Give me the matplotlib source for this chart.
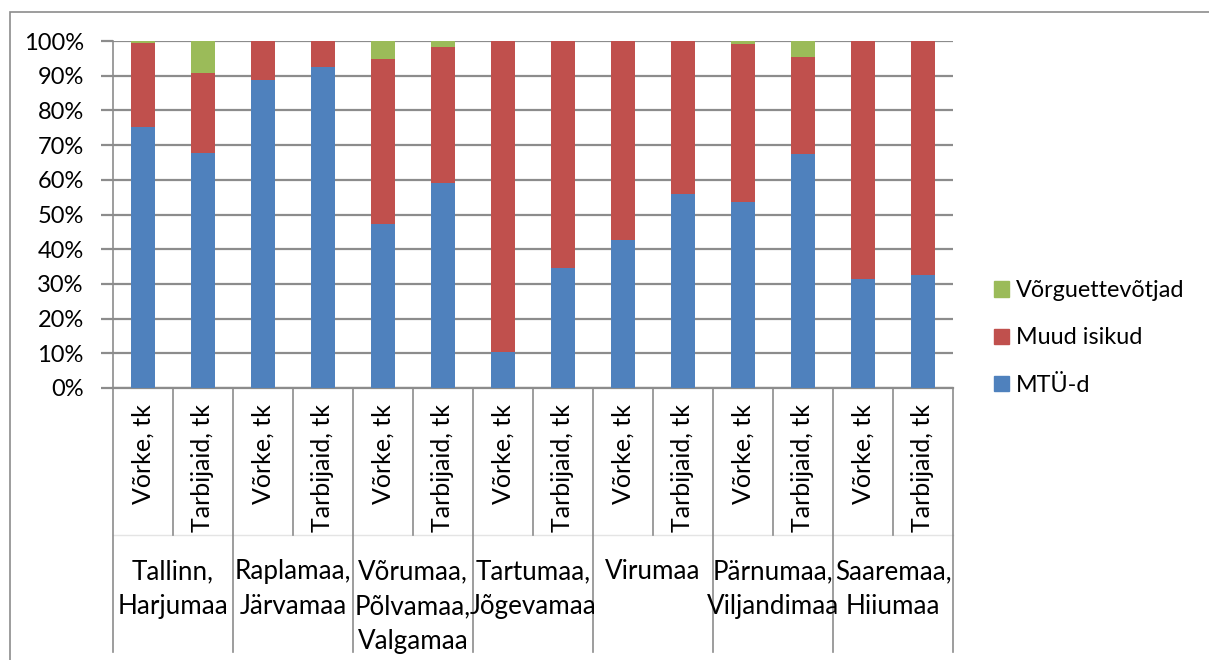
import matplotlib
matplotlib.use("Agg")
import matplotlib.pyplot as plt
import matplotlib.transforms as mtransforms
from matplotlib.patches import Patch, Rectangle

plt.rcParams['font.family'] = ['Lato', 'DejaVu Sans']

regions = ["Tallinn,\nHarjumaa", "Raplamaa,\nJärvamaa", "Võrumaa,\nPõlvamaa,\nValgamaa",
           "Tartumaa,\nJõgevamaa", "Virumaa", "Pärnumaa,\nViljandimaa", "Saaremaa,\nHiiumaa"]
measures = ["Võrke, tk", "Tarbijaid, tk"]

# shares in percent, two bars (networks / consumers) per region
mtu = [75.3, 67.7, 88.8, 92.5, 47.3, 59.0, 10.4, 34.5, 42.7, 55.9, 53.5, 67.3, 31.4, 32.6]
muud = [24.2, 23.0, 11.2, 7.5, 47.4, 39.4, 89.6, 65.5, 57.3, 44.1, 45.7, 28.0, 68.6, 67.4]
vork = [0.5, 9.3, 0.0, 0.0, 5.3, 1.6, 0.0, 0.0, 0.0, 0.0, 0.8, 4.7, 0.0, 0.0]

series_names = ["MTÜ-d", "Muud isikud", "Võrguettevõtjad"]
colors = ["#4F81BD", "#C0504D", "#9BBB59"]
grid_col = "#8c8c8c"

W, H = 1209, 660
fig = plt.figure(figsize=(W / 100, H / 100), dpi=100)
ax = fig.add_axes([113 / W, 1 - 388 / H, 840 / W, 347 / H])

n = len(mtu)
x = list(range(n))
bottom2 = [a + b for a, b in zip(mtu, muud)]
ax.bar(x, mtu, width=0.39, color=colors[0], zorder=3)
ax.bar(x, muud, width=0.39, bottom=mtu, color=colors[1], zorder=3)
ax.bar(x, vork, width=0.39, bottom=bottom2, color=colors[2], zorder=3)

ax.set_xlim(-0.5, n - 0.5)
ax.set_ylim(0, 100)
ax.set_yticks(range(0, 101, 10))
ax.set_yticklabels([f"{v}%" for v in range(0, 101, 10)], fontsize=17)
ax.yaxis.grid(True, color=grid_col, linewidth=1.6, zorder=0)
ax.tick_params(axis='y', length=9, width=1.6, color=grid_col, pad=12)
ax.set_xticks([])
for s in ["top", "right"]:
    ax.spines[s].set_visible(False)
ax.spines["left"].set_color(grid_col)
ax.spines["bottom"].set_color(grid_col)
ax.spines["left"].set_linewidth(1.2)
ax.spines["bottom"].set_linewidth(1.6)

# two-level category axis below the plot
trans = mtransforms.blended_transform_factory(ax.transData, fig.transFigure)
def fy(px):
    return 1 - px / H

for i in range(n):
    ax.text(i, fy(404), measures[i % 2], rotation=90, ha='center', va='top',
            fontsize=18, transform=trans)
ax.plot([-0.5, n - 0.5], [fy(535), fy(535)], color="#e4e4e4", lw=1,
        transform=trans, clip_on=False)
for k in range(n + 1):
    xe = k - 0.5
    y_end = 652 if k % 2 == 0 else 535
    ax.plot([xe, xe], [fy(388), fy(y_end)], color=grid_col, lw=1.2,
            transform=trans, clip_on=False)
for g, name in enumerate(regions):
    ax.text(2 * g + 0.5, fy(559), name, ha='center', va='top', fontsize=18.7,
            linespacing=1.5, transform=trans)

# legend, top entry first
handles = [Patch(color=colors[2]), Patch(color=colors[1]), Patch(color=colors[0])]
fig.legend(handles, series_names[::-1], loc='center left',
           bbox_to_anchor=(994 / W, fy(338)), frameon=False, fontsize=16.8,
           borderpad=0, borderaxespad=0,
           handlelength=0.65, handleheight=0.65, handletextpad=0.3, labelspacing=1.12)

# chart border
fig.add_artist(Rectangle((10 / W, -0.1), 1.2, fy(12) + 0.1, transform=fig.transFigure,
                         fill=False, edgecolor=grid_col, lw=1.2))

fig.savefig("out.png", dpi=100)
